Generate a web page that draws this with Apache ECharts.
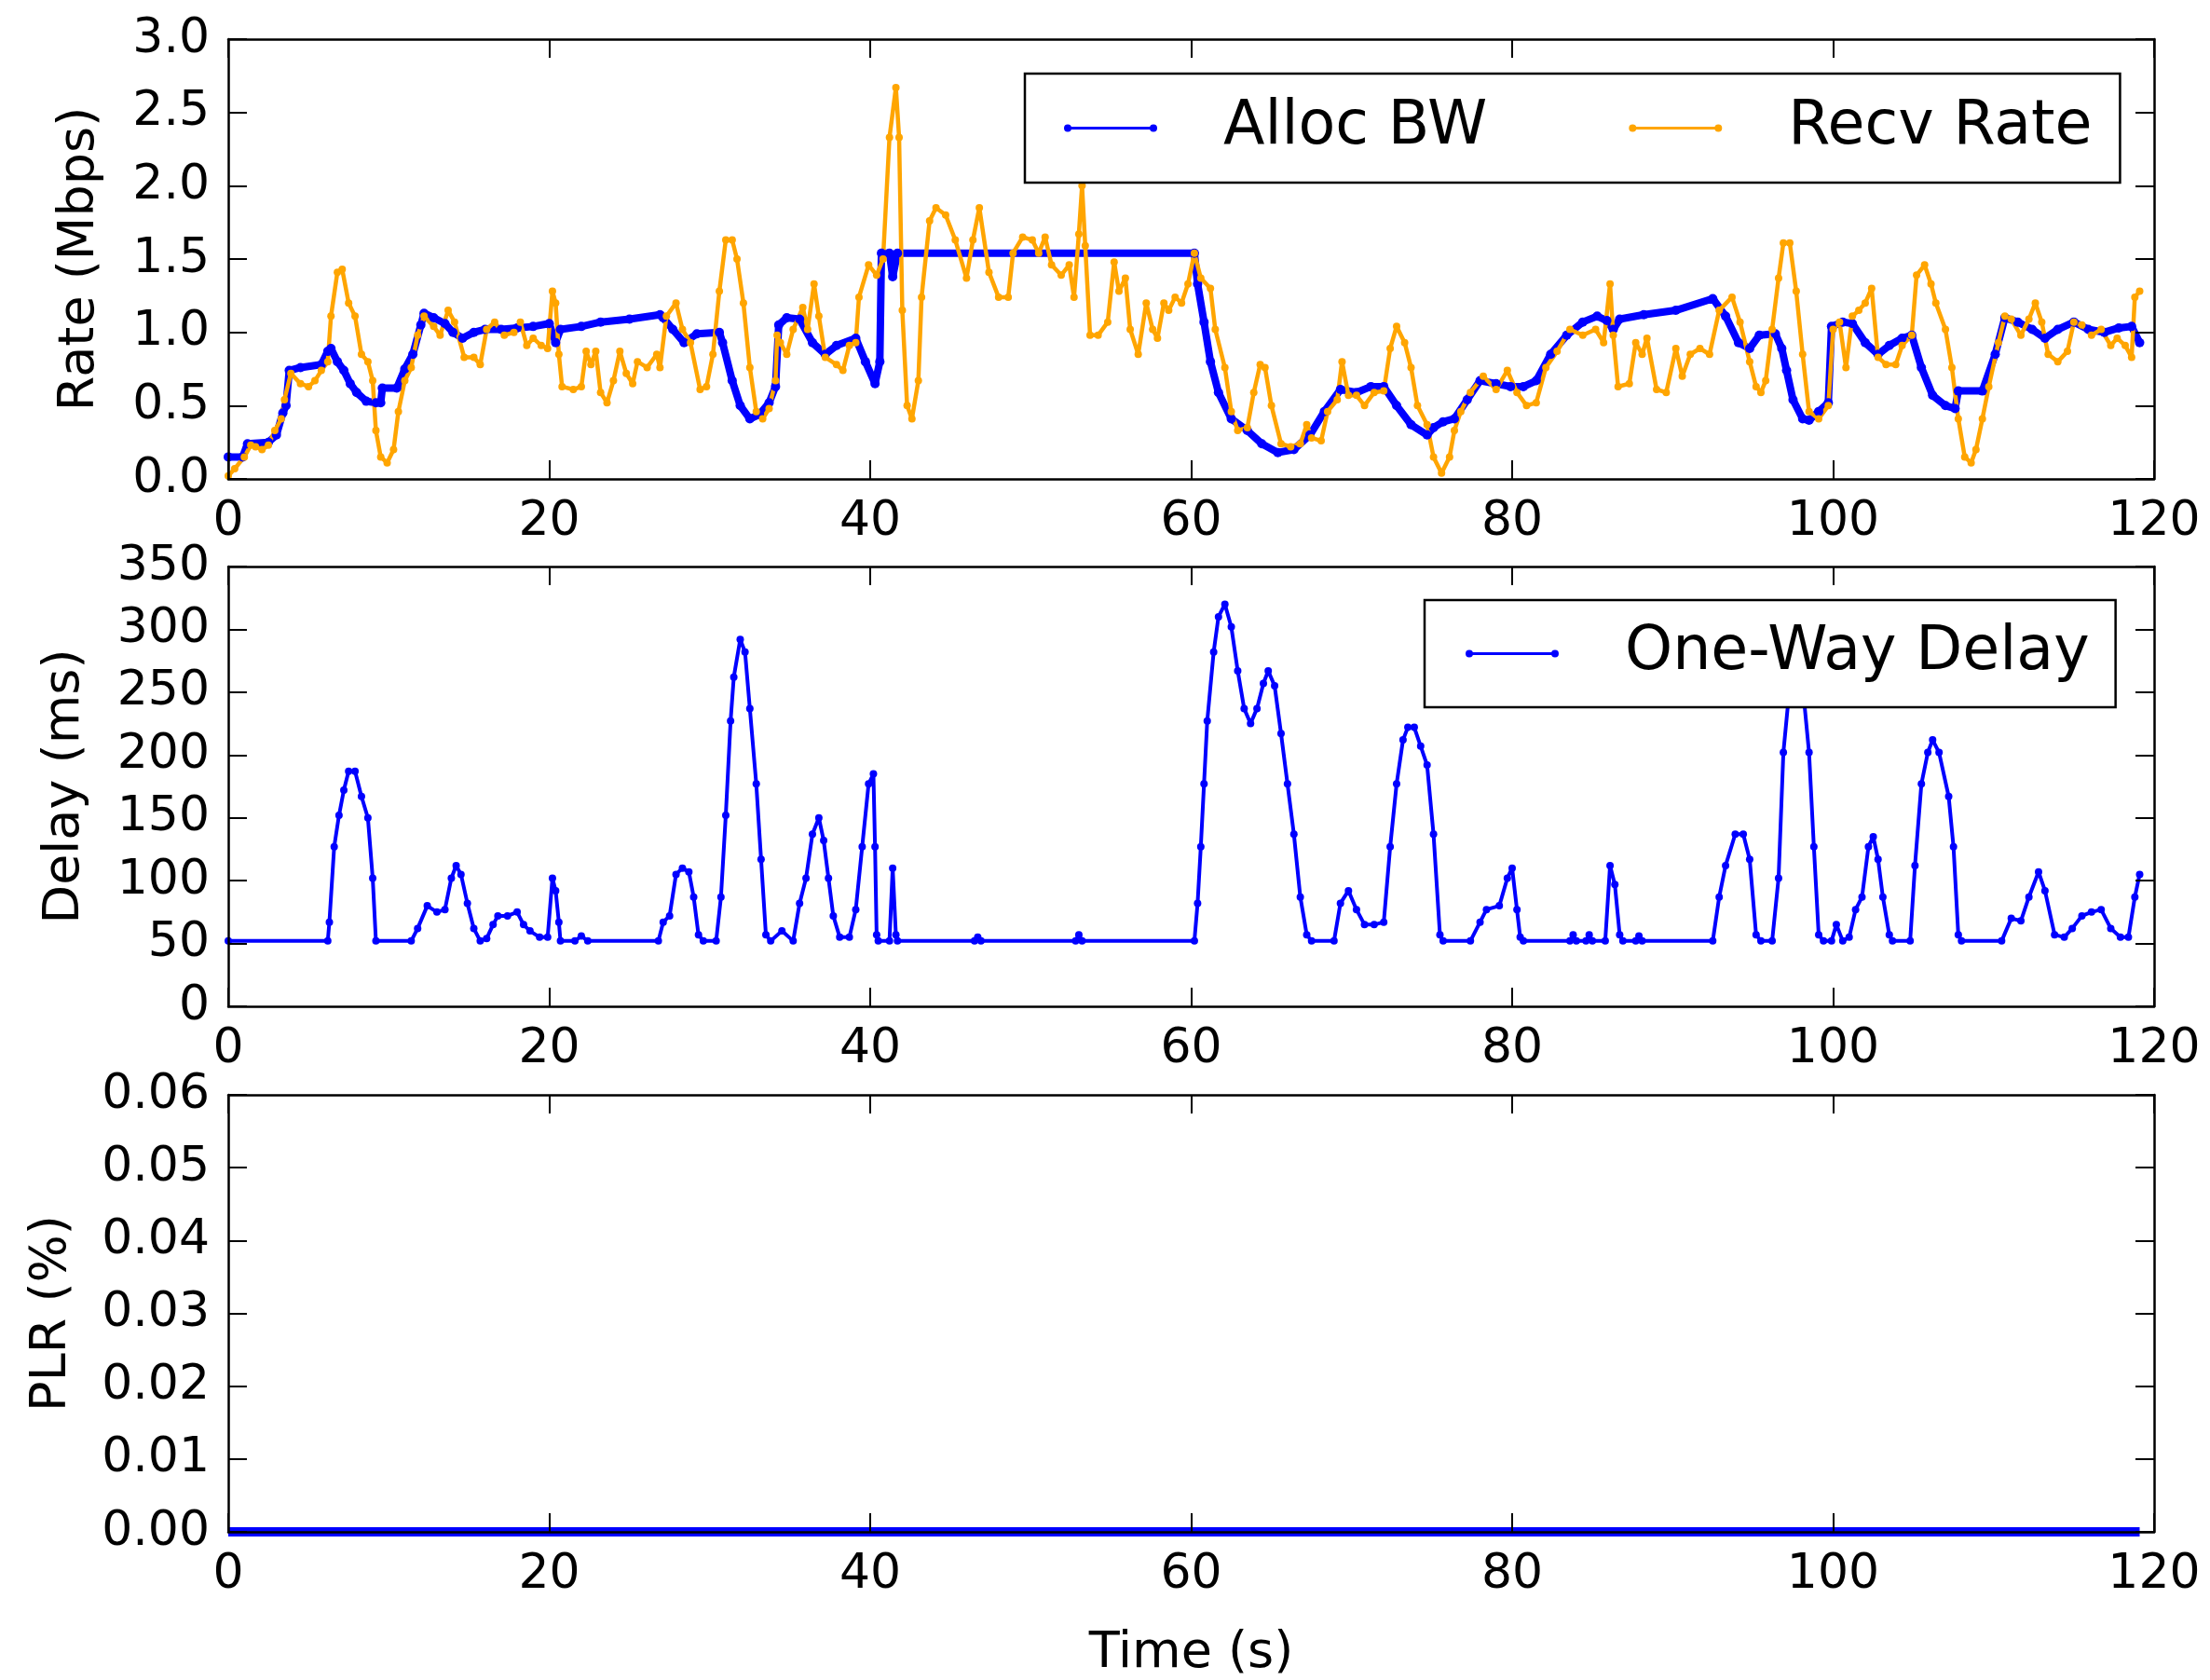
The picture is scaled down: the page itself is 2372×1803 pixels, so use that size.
<!DOCTYPE html>
<html>
<head>
<meta charset="utf-8">
<title>Rate / Delay / PLR</title>
<script src="https://cdn.jsdelivr.net/npm/echarts@6/dist/echarts.min.js"></script>
<style>
  html, body { margin: 0; padding: 0; background: #fff; }
  #chart { width: 2372px; height: 1803px; }
</style>
</head>
<body>
<div id="chart"></div>
<script>
// [time (s), value] pairs
const allocBw = [
  [0,0.15],[0.9,0.15],[1.2,0.24],[2.5,0.25],[3.0,0.3],[3.4,0.45],[3.6,0.5],[3.8,0.74],[4.5,0.76],[5.8,0.78],
  [6.2,0.87],[6.4,0.89],[6.8,0.8],[7.2,0.74],[7.6,0.65],[8.0,0.59],[8.6,0.53],[9.2,0.52],[9.5,0.52],[9.6,0.62],
  [10.5,0.62],[11.0,0.75],[11.5,0.85],[12.0,1.05],[12.2,1.13],[12.8,1.1],[13.5,1.06],[14.0,1.0],[14.6,0.96],[15.3,1.0],
  [16,1.02],[17,1.02],[18,1.03],[19,1.04],[20,1.06],[20.4,0.93],[20.7,1.02],[22,1.04],[23.2,1.07],[25,1.09],
  [26.9,1.12],[27.1,1.1],[27.7,1.02],[28.4,0.93],[29.2,0.99],[30.6,1.0],[30.8,0.93],[31.4,0.67],[31.9,0.5],[32.5,0.41],
  [33.1,0.44],[33.7,0.52],[34.1,0.63],[34.3,1.05],[34.8,1.1],[35.6,1.09],[36.4,0.93],[37.2,0.85],[37.9,0.91],[39.1,0.96],
  [39.7,0.8],[40.3,0.65],[40.6,0.8],[40.7,1.54],[41.2,1.54],[41.4,1.38],[41.7,1.54],[60.2,1.54],[60.4,1.33],[60.8,1.07],
  [61.2,0.8],[61.7,0.59],[62.5,0.41],[63.5,0.33],[64.4,0.24],[65.4,0.18],[66.4,0.2],[67.4,0.3],[68.3,0.46],[69.3,0.61],
  [70.3,0.59],[71.2,0.63],[72,0.63],[72.8,0.5],[73.7,0.37],[74.7,0.3],[75.1,0.35],[75.7,0.39],[76.4,0.41],[77.2,0.54],
  [78,0.67],[79,0.65],[79.9,0.63],[80.7,0.63],[81.5,0.67],[82.4,0.85],[83.4,0.98],[84.4,1.07],[85.3,1.11],[85.9,1.08],
  [86.3,1.02],[86.7,1.09],[88.2,1.12],[90.2,1.15],[92.5,1.23],[93.3,1.11],[94.1,0.93],[94.8,0.89],[95.4,0.98],[96.4,0.99],
  [96.8,0.89],[97.1,0.74],[97.5,0.54],[98.1,0.41],[98.5,0.4],[99.1,0.46],[99.7,0.52],[99.9,1.04],[100.6,1.07],[101.2,1.06],
  [102,0.93],[102.8,0.85],[103.5,0.91],[104.3,0.96],[104.9,0.98],[105.5,0.76],[106.2,0.57],[107,0.5],[107.6,0.48],[107.8,0.6],
  [109.3,0.6],[110.1,0.85],[110.7,1.1],[111.5,1.07],[112.4,1.02],[113.2,0.96],[114,1.02],[115,1.07],[115.9,1.02],[116.9,1.0],
  [117.8,1.03],[118.6,1.04],[119.1,0.93]
];

const recvRate = [
  [0,0.02],[0.4,0.07],[1,0.15],[1.4,0.23],[1.7,0.22],[2.1,0.2],[2.5,0.23],[2.9,0.33],[3.3,0.41],[3.5,0.54],
  [3.9,0.72],[4.5,0.65],[5,0.63],[5.4,0.67],[5.8,0.74],[6.2,0.8],[6.4,1.11],[6.8,1.41],[7.1,1.43],[7.5,1.2],
  [7.9,1.11],[8.3,0.85],[8.7,0.8],[9,0.67],[9.2,0.33],[9.5,0.15],[9.9,0.11],[10.3,0.2],[10.6,0.46],[11,0.67],
  [11.4,0.76],[11.8,0.98],[12.2,1.11],[12.8,1.04],[13.2,0.98],[13.7,1.15],[14.1,1.07],[14.7,0.83],[15.3,0.83],[15.7,0.78],
  [16.1,1.02],[16.6,1.07],[17.2,0.98],[17.8,1.0],[18.2,1.07],[18.6,0.91],[19,0.96],[19.5,0.91],[19.9,0.89],[20.2,1.28],
  [20.4,1.2],[20.6,0.85],[20.8,0.63],[21.5,0.61],[22,0.63],[22.3,0.87],[22.6,0.78],[22.9,0.87],[23.2,0.59],[23.6,0.52],
  [24,0.67],[24.4,0.87],[24.8,0.72],[25.2,0.65],[25.5,0.8],[26.1,0.76],[26.7,0.85],[26.9,0.76],[27.3,1.11],[27.9,1.2],
  [28.3,1.02],[28.8,0.93],[29.4,0.61],[29.8,0.63],[30.2,0.85],[30.6,1.28],[31,1.63],[31.4,1.63],[31.7,1.5],[32.1,1.2],
  [32.5,0.76],[32.9,0.46],[33.3,0.41],[33.7,0.48],[34.1,0.67],[34.2,0.98],[34.4,0.93],[34.8,0.85],[35.2,1.02],[35.8,1.17],
  [36.1,1.02],[36.5,1.33],[36.8,1.11],[37.2,0.83],[37.9,0.78],[38.3,0.74],[38.7,0.91],[39.1,0.93],[39.3,1.24],[39.9,1.46],
  [40.4,1.39],[40.8,1.5],[41.2,2.33],[41.6,2.67],[41.8,2.33],[42,1.15],[42.3,0.5],[42.6,0.41],[43,0.67],[43.2,1.24],
  [43.7,1.76],[44.1,1.85],[44.7,1.8],[45.3,1.63],[46,1.37],[46.4,1.63],[46.8,1.85],[47.4,1.41],[48,1.24],[48.6,1.24],
  [48.9,1.54],[49.5,1.65],[50.1,1.63],[50.5,1.54],[50.9,1.65],[51.3,1.46],[51.9,1.39],[52.4,1.46],[52.7,1.24],[53,1.67],
  [53.2,2.0],[53.4,1.59],[53.7,0.98],[54.2,0.98],[54.8,1.07],[55.2,1.48],[55.5,1.28],[55.9,1.37],[56.2,1.02],[56.7,0.85],
  [57.2,1.2],[57.6,1.02],[57.9,0.96],[58.3,1.2],[58.6,1.15],[59,1.24],[59.4,1.2],[59.8,1.33],[60.2,1.54],[60.6,1.37],
  [61.2,1.3],[61.5,1.02],[62.1,0.76],[62.5,0.46],[62.9,0.33],[63.5,0.35],[63.9,0.59],[64.3,0.78],[64.6,0.76],[65,0.5],
  [65.6,0.24],[66.2,0.22],[66.8,0.24],[67.2,0.37],[67.5,0.28],[68.1,0.26],[68.5,0.46],[69.1,0.54],[69.4,0.8],[69.8,0.57],
  [70.3,0.57],[70.8,0.5],[71.4,0.59],[72,0.6],[72.4,0.89],[72.8,1.04],[73.3,0.93],[73.7,0.76],[74.1,0.5],[74.7,0.37],
  [75.1,0.15],[75.6,0.04],[76.1,0.15],[76.4,0.33],[76.8,0.46],[77.4,0.59],[78.2,0.7],[79,0.61],[79.7,0.74],[80.3,0.59],
  [80.9,0.5],[81.5,0.52],[82.1,0.76],[82.8,0.87],[83.6,1.02],[84.4,0.98],[85.2,1.02],[85.7,0.93],[86.1,1.33],[86.3,0.98],
  [86.6,0.63],[87.3,0.65],[87.7,0.93],[88.1,0.85],[88.4,0.96],[89,0.61],[89.6,0.59],[90.2,0.89],[90.6,0.7],[91.1,0.85],
  [91.7,0.89],[92.3,0.85],[92.9,1.15],[93.7,1.24],[94.2,1.07],[94.8,0.8],[95.2,0.63],[95.5,0.59],[95.8,0.67],[96.2,1.02],
  [96.6,1.37],[96.9,1.61],[97.3,1.61],[97.7,1.28],[98.1,0.85],[98.5,0.46],[99.1,0.41],[99.7,0.5],[100,1.02],[100.4,1.07],
  [100.8,0.76],[101.2,1.11],[101.6,1.15],[102,1.2],[102.4,1.3],[102.8,0.83],[103.3,0.78],[103.9,0.78],[104.3,0.91],[104.9,0.98],
  [105.2,1.39],[105.7,1.46],[106.1,1.33],[106.4,1.2],[107,1.02],[107.4,0.76],[107.8,0.41],[108.2,0.15],[108.6,0.11],[108.9,0.2],
  [109.3,0.41],[109.7,0.63],[110.3,0.93],[110.7,1.11],[111.1,1.09],[111.7,0.98],[112.2,1.09],[112.6,1.2],[113,1.07],[113.4,0.85],
  [114,0.8],[114.6,0.87],[115,1.07],[115.5,1.05],[116.1,0.98],[116.7,1.02],[117.3,0.91],[117.7,0.96],[118.2,0.91],[118.6,0.83],
  [118.8,1.24],[119.1,1.28]
];

const oneWayDelay = [
  [0,52],[6.2,52],[6.3,67],[6.6,127],[6.9,152],[7.2,172],[7.5,187],[7.9,187],[8.3,167],[8.7,150],
  [9,102],[9.2,52],[11.4,52],[11.8,62],[12.4,80],[13,75],[13.5,77],[13.9,102],[14.2,112],[14.5,105],
  [14.9,82],[15.3,62],[15.7,52],[16.1,54],[16.5,65],[16.8,72],[17.4,72],[18,75],[18.4,65],[18.8,60],
  [19.4,55],[19.9,55],[20.2,102],[20.4,92],[20.6,67],[20.7,52],[21.6,52],[22,56],[22.4,52],[26.8,52],
  [27.1,67],[27.5,72],[27.9,105],[28.3,110],[28.7,107],[29,87],[29.3,57],[29.6,52],[30.4,52],[30.7,87],
  [31,152],[31.3,227],[31.5,262],[31.9,292],[32.2,282],[32.5,237],[32.9,177],[33.2,117],[33.5,57],[33.8,52],
  [34.5,60],[35.2,52],[35.6,82],[36,102],[36.4,137],[36.8,150],[37.1,132],[37.4,102],[37.7,72],[38.1,55],
  [38.7,55],[39.1,77],[39.5,127],[39.9,177],[40.2,185],[40.3,127],[40.4,57],[40.5,52],[41.2,52],[41.4,110],
  [41.6,57],[41.7,52],[46.5,52],[46.7,55],[46.9,52],[52.8,52],[53,57],[53.2,52],[60.2,52],[60.4,82],
  [60.6,127],[60.8,177],[61,227],[61.4,282],[61.7,310],[62.1,320],[62.5,302],[62.9,267],[63.3,237],[63.7,225],
  [64.1,237],[64.5,257],[64.8,267],[65.2,255],[65.6,217],[66,177],[66.4,137],[66.8,87],[67.2,57],[67.5,52],
  [68.9,52],[69.3,82],[69.8,92],[70.3,77],[70.8,65],[71.4,65],[72,67],[72.4,127],[72.8,177],[73.2,212],
  [73.5,222],[73.9,222],[74.3,207],[74.7,192],[75.1,137],[75.5,57],[75.7,52],[77.4,52],[78,67],[78.4,77],
  [79.2,80],[79.7,102],[80,110],[80.3,77],[80.5,55],[80.7,52],[83.6,52],[83.8,57],[84,52],[84.6,52],
  [84.8,57],[85,52],[85.8,52],[86.1,112],[86.4,97],[86.7,57],[86.9,52],[87.7,52],[87.9,56],[88.1,52],
  [92.5,52],[92.9,87],[93.3,112],[93.9,137],[94.4,137],[94.8,117],[95.2,57],[95.5,52],[96.2,52],[96.6,102],
  [96.9,202],[97.2,242],[97.5,262],[97.9,268],[98.2,242],[98.5,202],[98.8,127],[99.1,57],[99.4,52],[99.9,52],
  [100.2,65],[100.6,52],[101,55],[101.4,77],[101.8,87],[102.2,127],[102.5,135],[102.8,117],[103.1,87],[103.5,57],
  [103.7,52],[104.8,52],[105.1,112],[105.5,177],[105.9,202],[106.2,212],[106.6,202],[107.2,167],[107.5,127],[107.8,57],
  [108,52],[110.5,52],[111.1,70],[111.7,68],[112.2,87],[112.8,107],[113.2,92],[113.8,57],[114.4,55],[114.9,62],
  [115.5,72],[116.1,75],[116.7,77],[117.3,62],[117.9,55],[118.4,55],[118.8,87],[119.1,105]
];

const plr = [[0, 0], [119.1, 0]];

// tick labels
const timeTicks = [0, 20, 40, 60, 80, 100, 120];
const rateTicks = [0, 0.5, 1.0, 1.5, 2.0, 2.5, 3.0];
const delayTicks = [0, 50, 100, 150, 200, 250, 300, 350];
const plrTicks = [0, 0.01, 0.02, 0.03, 0.04, 0.05, 0.06];

const FONT = 'DejaVu Sans';
const BLUE = '#0000ff';
const ORANGE = '#ffa500';

// line with a dot at each end, like the matplotlib legend handle
const legendIcon = 'path://M4,2.5L96,2.5L96,5.5L4,5.5Z M0,4A4,4 0 1 1 8,4A4,4 0 1 1 0,4Z M92,4A4,4 0 1 1 100,4A4,4 0 1 1 92,4Z';

function axis(gridIndex, ticks, position, showLabel, fmt) {
  return {
    gridIndex: gridIndex,
    type: 'value',
    position: position,
    min: ticks[0],
    max: ticks[ticks.length - 1],
    interval: ticks[1] - ticks[0],
    z: 10,
    axisLine: { show: true, onZero: false, lineStyle: { color: '#000', width: 2.5 } },
    axisTick: { show: true, inside: true, length: 20, lineStyle: { color: '#000', width: 2 } },
    axisLabel: { show: showLabel, color: '#000', fontSize: 52, fontFamily: FONT, margin: 20, formatter: fmt },
    splitLine: { show: false }
  };
}

function axisName(ax, name, gap) {
  ax.name = name;
  ax.nameLocation = 'middle';
  ax.nameGap = gap;
  ax.nameTextStyle = { color: '#000', fontSize: 54, fontFamily: FONT };
  return ax;
}

const fmtInt = v => String(Math.round(v));
const yFormats = [v => v.toFixed(1), fmtInt, v => v.toFixed(2)];
const yTicks = [rateTicks, delayTicks, plrTicks];
const yNames = ['Rate (Mbps)', 'Delay (ms)', 'PLR (%)'];
const yGaps = [132, 148, 162];

const xAxes = [];
const yAxes = [];
for (let i = 0; i < 3; i++) {
  const xb = axis(i, timeTicks, 'bottom', true, fmtInt);
  if (i === 2) axisName(xb, 'Time (s)', 104);
  xAxes.push(xb, axis(i, timeTicks, 'top', false));
  yAxes.push(axisName(axis(i, yTicks[i], 'left', true, yFormats[i]), yNames[i], yGaps[i]),
             axis(i, yTicks[i], 'right', false));
}

const legendText = { color: '#000', fontSize: 65, fontFamily: FONT, padding: [0, 0, 0, 66] };

const option = {
  animation: false,
  backgroundColor: '#fff',
  grid: [
    { left: 245, top: 42, width: 2067, height: 472 },
    { left: 245, top: 608, width: 2067, height: 472 },
    { left: 245, top: 1175, width: 2067, height: 469 }
  ],
  xAxis: xAxes,
  yAxis: yAxes,
  legend: [
    {
      left: 1100, top: 79, orient: 'horizontal',
      padding: [26, 30, 26, 42], itemGap: 152, itemWidth: 100, itemHeight: 8,
      borderColor: '#000', borderWidth: 2.5, backgroundColor: '#fff', borderRadius: 0,
      selectedMode: false, textStyle: legendText,
      data: [{ name: 'Alloc BW', icon: legendIcon }, { name: 'Recv Rate', icon: legendIcon }]
    },
    {
      left: 1529, top: 644, orient: 'horizontal',
      padding: [25, 28, 25, 44], itemWidth: 100, itemHeight: 8,
      borderColor: '#000', borderWidth: 2.5, backgroundColor: '#fff', borderRadius: 0,
      selectedMode: false, textStyle: legendText,
      data: [{ name: 'One-Way Delay', icon: legendIcon }]
    }
  ],
  series: [
    {
      name: 'Alloc BW', type: 'line', xAxisIndex: 0, yAxisIndex: 0, data: allocBw,
      color: BLUE, lineStyle: { width: 8, join: 'round' },
      symbol: 'circle', symbolSize: 10, showAllSymbol: true
    },
    {
      name: 'Recv Rate', type: 'line', xAxisIndex: 0, yAxisIndex: 0, data: recvRate,
      color: ORANGE, lineStyle: { width: 4.5, join: 'round' },
      symbol: 'circle', symbolSize: 8, showAllSymbol: true
    },
    {
      name: 'One-Way Delay', type: 'line', xAxisIndex: 2, yAxisIndex: 2, data: oneWayDelay,
      color: BLUE, lineStyle: { width: 4, join: 'round' },
      symbol: 'circle', symbolSize: 8, showAllSymbol: true
    },
    {
      name: 'PLR', type: 'line', xAxisIndex: 4, yAxisIndex: 4, data: plr,
      color: BLUE, lineStyle: { width: 10 }, symbol: 'none'
    }
  ]
};

const chart = echarts.init(document.getElementById('chart'));
chart.setOption(option);
</script>
</body>
</html>
